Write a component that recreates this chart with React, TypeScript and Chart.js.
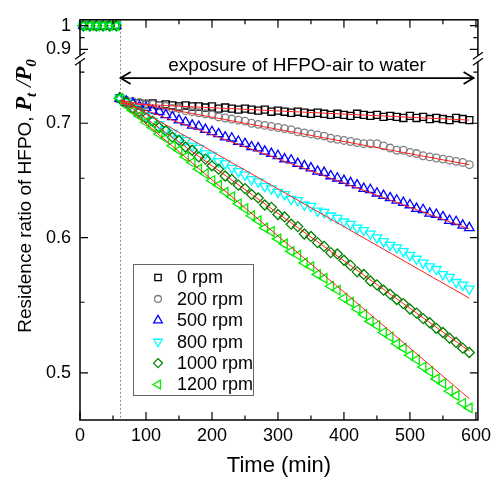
import React, { useEffect, useRef } from 'react';
import { Chart, registerables } from 'chart.js';
import { drawPoint } from 'chart.js/helpers';

Chart.register(...registerables);

const FONT = '"Liberation Sans", Arial, sans-serif';
const SERIF = '"Liberation Serif", "Times New Roman", serif';

// ---------------- data ----------------
const plateauTimes = [5, 15, 25, 35, 45, 55];
const times = [60, 70, 80, 90, 100, 110, 120, 130, 140, 150, 160, 170, 180, 190, 200, 210, 220, 230, 240, 250, 260, 270, 280, 290, 300, 310, 320, 330, 340, 350, 360, 370, 380, 390, 400, 410, 420, 430, 440, 450, 460, 470, 480, 490, 500, 510, 520, 530, 540, 550, 560, 570, 580, 590];

const plateau0 = [1.0, 1.0, 0.999, 1.0, 1.001, 1.0];
const plateau200 = [1.0, 0.999, 1.0, 1.0, 1.0, 0.999];
const plateau500 = [1.001, 1.0, 1.0, 0.999, 1.0, 1.0];
const plateau800 = [1.0, 1.0, 1.001, 1.0, 0.999, 1.0];
const plateau1000 = [0.999, 1.0, 1.0, 1.0, 1.0, 1.001];
const plateau1200 = [1.0, 1.0, 0.999, 1.0, 1.0, 1.0];

const rpm0 = [0.724, 0.720, 0.719, 0.719, 0.718, 0.719, 0.717, 0.718, 0.717, 0.716, 0.717, 0.716, 0.716, 0.715, 0.716, 0.714, 0.715, 0.714, 0.713, 0.714, 0.713, 0.712, 0.713, 0.711, 0.712, 0.711, 0.710, 0.711, 0.710, 0.709, 0.710, 0.709, 0.708, 0.709, 0.708, 0.707, 0.709, 0.708, 0.707, 0.708, 0.706, 0.707, 0.706, 0.705, 0.707, 0.705, 0.706, 0.704, 0.705, 0.704, 0.703, 0.705, 0.704, 0.703];
const rpm200 = [0.724, 0.722, 0.721, 0.720, 0.719, 0.718, 0.717, 0.716, 0.714, 0.714, 0.712, 0.711, 0.710, 0.709, 0.708, 0.706, 0.705, 0.704, 0.703, 0.702, 0.700, 0.699, 0.698, 0.697, 0.696, 0.695, 0.694, 0.692, 0.691, 0.690, 0.689, 0.688, 0.686, 0.685, 0.684, 0.683, 0.682, 0.681, 0.681, 0.681, 0.679, 0.677, 0.675, 0.675, 0.673, 0.672, 0.670, 0.669, 0.668, 0.667, 0.666, 0.665, 0.664, 0.662];
const rpm500 = [0.724, 0.721, 0.719, 0.716, 0.715, 0.712, 0.711, 0.708, 0.706, 0.703, 0.701, 0.698, 0.697, 0.694, 0.692, 0.690, 0.687, 0.686, 0.683, 0.681, 0.678, 0.677, 0.674, 0.672, 0.670, 0.667, 0.666, 0.663, 0.661, 0.659, 0.656, 0.655, 0.652, 0.650, 0.648, 0.646, 0.644, 0.641, 0.640, 0.637, 0.635, 0.633, 0.631, 0.629, 0.627, 0.624, 0.623, 0.620, 0.619, 0.617, 0.614, 0.613, 0.610, 0.608];
const rpm800 = [0.724, 0.720, 0.715, 0.711, 0.707, 0.702, 0.699, 0.694, 0.691, 0.686, 0.684, 0.679, 0.677, 0.672, 0.670, 0.665, 0.663, 0.659, 0.656, 0.653, 0.649, 0.647, 0.643, 0.641, 0.638, 0.636, 0.632, 0.631, 0.627, 0.626, 0.622, 0.621, 0.618, 0.616, 0.613, 0.611, 0.608, 0.606, 0.603, 0.600, 0.597, 0.594, 0.592, 0.589, 0.586, 0.583, 0.580, 0.577, 0.575, 0.571, 0.569, 0.565, 0.563, 0.560];
const rpm1000 = [0.724, 0.720, 0.714, 0.711, 0.705, 0.702, 0.696, 0.693, 0.687, 0.684, 0.678, 0.675, 0.669, 0.667, 0.661, 0.658, 0.652, 0.649, 0.644, 0.641, 0.636, 0.633, 0.627, 0.625, 0.619, 0.617, 0.611, 0.609, 0.603, 0.601, 0.596, 0.593, 0.588, 0.587, 0.582, 0.578, 0.573, 0.571, 0.566, 0.563, 0.559, 0.556, 0.552, 0.549, 0.545, 0.542, 0.538, 0.535, 0.531, 0.528, 0.524, 0.521, 0.517, 0.514];
const rpm1200 = [0.724, 0.717, 0.712, 0.707, 0.701, 0.696, 0.690, 0.686, 0.679, 0.675, 0.669, 0.664, 0.658, 0.654, 0.648, 0.644, 0.638, 0.634, 0.628, 0.624, 0.618, 0.614, 0.608, 0.605, 0.599, 0.595, 0.589, 0.586, 0.580, 0.577, 0.571, 0.568, 0.562, 0.559, 0.553, 0.550, 0.545, 0.541, 0.536, 0.533, 0.528, 0.525, 0.520, 0.517, 0.512, 0.509, 0.504, 0.501, 0.496, 0.493, 0.488, 0.485, 0.480, 0.477];

// exponential fits (straight on the log axis): value at start / end time
const fitTimes = [62, 590];
const fit0 = [0.719, 0.703];
const fit200 = [0.722, 0.662];
const fit500 = [0.721, 0.607];
const fit800 = [0.723, 0.553];
const fit1000 = [0.722, 0.515];
const fit1200 = [0.720, 0.483];

const seriesLabels = ['0 rpm', '200 rpm', '500 rpm', '800 rpm', '1000 rpm', '1200 rpm'];

// axes
const xTickValues = [0, 50, 100, 150, 200, 250, 300, 350, 400, 450, 500, 550, 600];
const xTickLabels = ['0', '', '100', '', '200', '', '300', '', '400', '', '500', '', '600'];
const yLowTickValues = [0.5, 0.55, 0.6, 0.65, 0.7, 0.75];
const yLowTickLabels = ['0.5', '', '0.6', '', '0.7', ''];
const yTopTickValues = [0.9, 0.95, 1.0];
const yTopTickLabels = ['0.9', '', '1'];

const exposureStart = 60;
const exposureEnd = 598;
const arrowLevel = 0.744;
const annotationText = 'exposure of HFPO-air to water';

// ---------------- styles ----------------
const styles = [
  { color: '#000000', pointStyle: 'rect', radius: 5, rotation: 0 },
  { color: '#808080', pointStyle: 'circle', radius: 3.8, rotation: 0 },
  { color: '#0000ff', pointStyle: 'triangle', radius: 5.5, rotation: 0 },
  { color: '#00ffff', pointStyle: 'triangle', radius: 5.5, rotation: 180 },
  { color: '#008000', pointStyle: 'rectRot', radius: 5, rotation: 0 },
  { color: '#00ee00', pointStyle: 'triangle', radius: 5.5, rotation: -90 },
];

const mainValues = [rpm0, rpm200, rpm500, rpm800, rpm1000, rpm1200];
const plateauValues = [plateau0, plateau200, plateau500, plateau800, plateau1000, plateau1200];
const fitValues = [fit0, fit200, fit500, fit800, fit1000, fit1200];

function markerDataset(label: string, xs: number[], ys: number[], s: any, yAxisID: string, order: number) {
  return {
    label,
    data: xs.map((x, i) => ({ x, y: ys[i] })),
    yAxisID,
    showLine: false,
    pointStyle: s.pointStyle,
    pointRadius: s.radius,
    pointRotation: s.rotation,
    pointBorderColor: s.color,
    pointBackgroundColor: 'rgba(0,0,0,0)',
    pointBorderWidth: 1.3,
    borderColor: s.color,
    backgroundColor: 'rgba(0,0,0,0)',
    clip: false,
    order,
  };
}

function buildDatasets() {
  const ds: any[] = [];
  for (let i = 0; i < 6; i++) {
    ds.push(markerDataset(seriesLabels[i], times, mainValues[i], styles[i], 'yLow', 20 - i));
    ds.push(markerDataset(seriesLabels[i] + ' (before)', plateauTimes, plateauValues[i], styles[i], 'yTop', 20 - i));
  }
  for (let i = 0; i < 6; i++) {
    ds.push({
      label: seriesLabels[i] + ' fit',
      data: fitTimes.map((x, j) => ({ x, y: fitValues[i][j] })),
      yAxisID: 'yLow',
      showLine: true,
      borderColor: '#ff2020',
      borderWidth: 1,
      pointRadius: 0,
      fill: false,
      order: 0,
    });
  }
  return ds;
}

const decor = {
  id: 'decor',
  beforeDatasetsDraw(chart: any) {
    const { ctx, chartArea: a, scales } = chart;
    const x = Math.round(scales.x.getPixelForValue(exposureStart)) + 0.5;
    ctx.save();
    ctx.strokeStyle = '#8a8a8a';
    ctx.lineWidth = 1;
    ctx.setLineDash([2, 2]);
    ctx.beginPath();
    ctx.moveTo(x, a.top);
    ctx.lineTo(x, a.bottom);
    ctx.stroke();
    ctx.restore();
  },
  afterDatasetsDraw(chart: any) {
    const { ctx, chartArea: a, scales } = chart;
    const xs = scales.x, yT = scales.yTop, yL = scales.yLow;
    ctx.save();
    // frame
    ctx.strokeStyle = '#000';
    ctx.lineWidth = 1.5;
    ctx.strokeRect(a.left, a.top, a.right - a.left, a.bottom - a.top);
    // ticks (inward, mirrored)
    ctx.lineWidth = 1.2;
    ctx.beginPath();
    xTickValues.forEach((v, i) => {
      const px = xs.getPixelForValue(v);
      const len = xTickLabels[i] ? 8 : 4.5;
      ctx.moveTo(px, a.bottom); ctx.lineTo(px, a.bottom - len);
      ctx.moveTo(px, a.top); ctx.lineTo(px, a.top + len);
    });
    const yTicks = (sc: any, vals: number[], labels: string[]) => {
      vals.forEach((v, i) => {
        const py = sc.getPixelForValue(v);
        const len = labels[i] ? 8 : 4.5;
        ctx.moveTo(a.left, py); ctx.lineTo(a.left + len, py);
        ctx.moveTo(a.right, py); ctx.lineTo(a.right - len, py);
      });
    };
    yTicks(yT, yTopTickValues, yTopTickLabels);
    yTicks(yL, yLowTickValues, yLowTickLabels);
    ctx.stroke();
    // axis breaks
    const by = yT.bottom;
    [a.left, a.right].forEach((x) => {
      ctx.fillStyle = '#fff';
      ctx.fillRect(x - 2, by - 3, 4, 6);
      ctx.strokeStyle = '#000';
      ctx.lineWidth = 1.2;
      ctx.beginPath();
      ctx.moveTo(x - 5, by + 1); ctx.lineTo(x + 5, by - 6);
      ctx.moveTo(x - 5, by + 7); ctx.lineTo(x + 5, by);
      ctx.stroke();
    });
    // arrow
    const x1 = xs.getPixelForValue(exposureStart);
    const x2 = xs.getPixelForValue(exposureEnd);
    const ay = yL.getPixelForValue(arrowLevel);
    ctx.strokeStyle = '#000';
    ctx.lineWidth = 1.8;
    ctx.beginPath();
    ctx.moveTo(x1 + 1, ay); ctx.lineTo(x2 - 1, ay);
    ctx.moveTo(x1 + 11, ay - 6); ctx.lineTo(x1 + 1, ay); ctx.lineTo(x1 + 11, ay + 6);
    ctx.moveTo(x2 - 11, ay - 6); ctx.lineTo(x2 - 1, ay); ctx.lineTo(x2 - 11, ay + 6);
    ctx.stroke();
    ctx.fillStyle = '#000';
    ctx.font = `19px ${FONT}`;
    ctx.textAlign = 'center';
    ctx.textBaseline = 'alphabetic';
    ctx.fillText(annotationText, (x1 + x2) / 2, ay - 7);
    ctx.restore();
  },
  afterDraw(chart: any) {
    const { ctx } = chart;
    ctx.save();
    // legend
    const lx = 133.5, ly = 264.5, lw = 120, lh = 131;
    ctx.strokeStyle = '#666';
    ctx.lineWidth = 1;
    ctx.strokeRect(lx, ly, lw, lh);
    ctx.font = `18px ${FONT}`;
    ctx.textAlign = 'left';
    ctx.textBaseline = 'middle';
    seriesLabels.forEach((lab, i) => {
      const cy = ly + 13 + i * 21.4;
      const s = styles[i];
      ctx.strokeStyle = s.color;
      ctx.fillStyle = 'rgba(0,0,0,0)';
      ctx.lineWidth = 1.3;
      drawPoint(ctx, { pointStyle: s.pointStyle, radius: s.radius * 0.9, rotation: s.rotation, borderWidth: 1.3 } as any, lx + 24.5, cy);
      ctx.fillStyle = '#000';
      ctx.fillText(lab, lx + 43.5, cy + 1);
    });
    // y title
    const parts = [
      { t: 'Residence ratio of HFPO, ', f: `19px ${FONT}`, dy: 0 },
      { t: 'P', f: `italic bold 23px ${SERIF}`, dy: 0 },
      { t: 't', f: `italic bold 15px ${SERIF}`, dy: 5 },
      { t: ' /', f: `italic 23px ${SERIF}`, dy: 0 },
      { t: 'P', f: `italic bold 23px ${SERIF}`, dy: 0 },
      { t: '0', f: `italic bold 15px ${SERIF}`, dy: 5 },
    ];
    let total = 0;
    const widths = parts.map((p) => { ctx.font = p.f; const w = ctx.measureText(p.t).width; total += w; return w; });
    ctx.translate(31, 196);
    ctx.rotate(-Math.PI / 2);
    ctx.fillStyle = '#000';
    ctx.textAlign = 'left';
    ctx.textBaseline = 'alphabetic';
    let cx = -total / 2;
    parts.forEach((p, i) => {
      ctx.font = p.f;
      ctx.fillText(p.t, cx, p.dy);
      cx += widths[i];
    });
    ctx.restore();
  },
};

export default function App() {
  const ref = useRef<HTMLCanvasElement>(null);
  useEffect(() => {
    if (!ref.current) return;
    const tickFont = { family: FONT, size: 18 };
    const chart = new Chart(ref.current, {
      type: 'scatter',
      data: { datasets: buildDatasets() },
      options: {
        responsive: false,
        animation: false,
        events: [],
        layout: { padding: { top: 14, right: 14, left: 0, bottom: 0 } },
        plugins: { legend: { display: false }, tooltip: { enabled: false } },
        scales: {
          x: {
            type: 'linear', min: 0, max: 603, bounds: 'data',
            afterBuildTicks: (s: any) => { s.ticks = xTickValues.map((v) => ({ value: v })); },
            afterFit: (s: any) => { s.height = 57; },
            ticks: { autoSkip: false, maxRotation: 0, padding: 5, font: tickFont, color: '#000', callback: (_v: any, i: number) => xTickLabels[i] },
            grid: { display: false, drawTicks: false },
            border: { display: false },
            title: { display: true, text: 'Time (min)', color: '#000', font: { family: FONT, size: 22, lineHeight: 1 }, padding: 0 },
          },
          yLow: {
            type: 'logarithmic', position: 'left', stack: 'y', stackWeight: 367, min: 0.4693, max: 0.7641, bounds: 'data',
            afterBuildTicks: (s: any) => { s.ticks = yLowTickValues.map((v) => ({ value: v })); },
            afterFit: (s: any) => { s.width = 80; },
            ticks: { autoSkip: false, padding: 9, font: tickFont, color: '#000', callback: (_v: any, i: number) => yLowTickLabels[i] },
            grid: { display: false, drawTicks: false },
            border: { display: false },
          },
          yTop: {
            type: 'linear', position: 'left', stack: 'y', stackWeight: 39, min: 0.8625, max: 1.025, bounds: 'data',
            afterBuildTicks: (s: any) => { s.ticks = yTopTickValues.map((v) => ({ value: v })); },
            afterFit: (s: any) => { s.width = 80; },
            ticks: { autoSkip: false, padding: 9, font: tickFont, color: '#000', callback: (_v: any, i: number) => yTopTickLabels[i] },
            grid: { display: false, drawTicks: false },
            border: { display: false },
          },
        },
      } as any,
      plugins: [decor],
    });
    return () => chart.destroy();
  }, []);
  return (
    <div style={{ position: 'absolute', left: 0, top: 0, width: 496, height: 477, background: '#fff' }}>
      <canvas ref={ref} width={496} height={477} style={{ display: 'block' }} />
    </div>
  );
}
